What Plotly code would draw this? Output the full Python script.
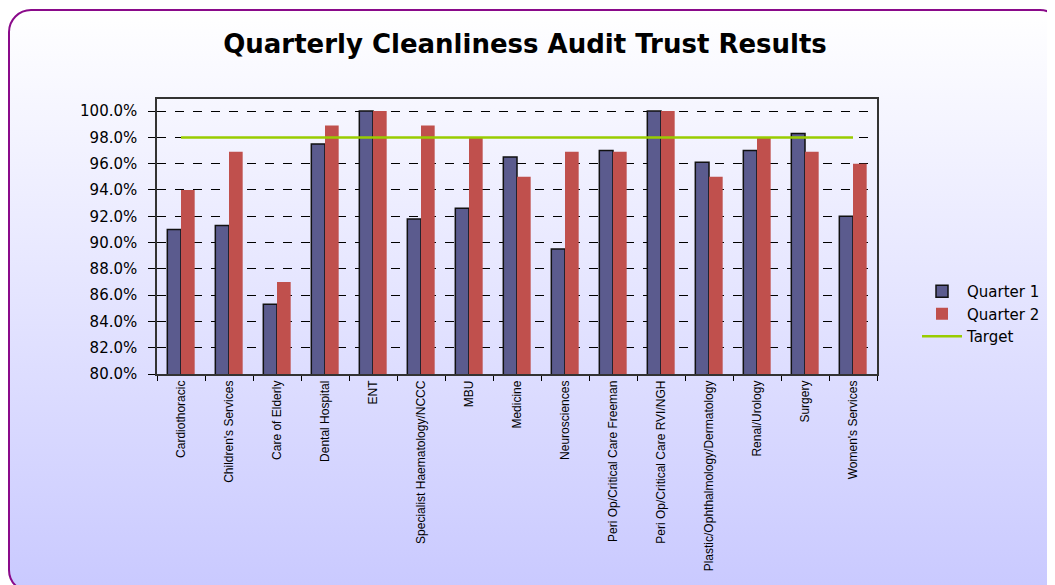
import base64
import plotly.graph_objects as go

categories = [
    "Cardiothoracic", "Children's Services", "Care of Elderly", "Dental Hospital",
    "ENT", "Specialist Haematology/NCCC", "MBU", "Medicine", "Neurosciences",
    "Peri Op/Critical Care Freeman", "Peri Op/Critical Care RVI/NGH",
    "Plastic/Ophthalmology/Dermatology", "Renal/Urology", "Surgery", "Women's Services",
]
quarter1 = [91.0, 91.3, 85.3, 97.5, 100.0, 91.8, 92.6, 96.5, 89.5, 97.0, 100.0, 96.1, 97.0, 98.3, 92.0]
quarter2 = [94.0, 96.9, 87.0, 98.9, 100.0, 98.9, 98.0, 95.0, 96.9, 96.9, 100.0, 95.0, 98.0, 96.9, 96.0]
target_value = 98.0
target = [target_value for _ in categories]
y_ticks = [80, 82, 84, 86, 88, 90, 92, 94, 96, 98, 100]

W, H = 1055, 585
L, R, T, B = 149, 186, 91, 219
pw, ph = W - L - R, H - T - B

svg = f'''<svg xmlns="http://www.w3.org/2000/svg" width="{W}" height="{H}" viewBox="0 0 {W} {H}" preserveAspectRatio="none">
<defs><linearGradient id="g" x1="0" y1="0" x2="0" y2="1">
<stop offset="0" stop-color="#ffffff"/><stop offset="1" stop-color="#c9c9ff"/></linearGradient></defs>
<rect x="0" y="0" width="{W}" height="{H}" fill="#ffffff"/>
<rect x="1" y="2" width="{W - 2}" height="{H - 3}" rx="22" ry="22" fill="url(#g)" stroke="#8a0a8a" stroke-width="2"/>
</svg>'''
src = "data:image/svg+xml;base64," + base64.b64encode(svg.encode()).decode()

font = "Liberation Sans, Arial, sans-serif"
wide = "DejaVu Sans, Liberation Sans, sans-serif"

fig = go.Figure()
fig.add_trace(go.Bar(
    name="Quarter 1", x=categories, y=quarter1,
    marker=dict(color="#5b5b8e", line=dict(color="#111111", width=1.5)),
))
fig.add_trace(go.Bar(
    name="Quarter 2", x=categories, y=quarter2,
    marker=dict(color="#c0504d", line=dict(width=0)),
))
fig.add_trace(go.Scatter(
    name="Target", x=categories, y=target, mode="lines",
    line=dict(color="#99cc00", width=2.5),
))

fig.update_layout(
    width=W, height=H,
    margin=dict(l=L, r=R, t=T, b=B, autoexpand=False),
    paper_bgcolor="rgba(0,0,0,0)",
    plot_bgcolor="#ffffff",
    font=dict(family=font, color="#000000"),
    barmode="group", bargap=0.43, bargroupgap=0,
    title=dict(
        text="<b>Quarterly Cleanliness Audit Trust Results</b>",
        x=517 / W, xanchor="center", xref="container",
        y=1 - 36 / H, yanchor="middle", yref="container",
        font=dict(size=26, family=wide, color="#000000"),
    ),
    legend=dict(
        x=(909 - L) / pw, xanchor="left",
        y=(T + ph - 306) / ph, yanchor="middle",
        bgcolor="rgba(0,0,0,0)", font=dict(size=15, family=wide),
        tracegroupgap=0, itemwidth=40,
    ),
    images=[dict(
        source=src, xref="paper", yref="paper",
        x=-L / pw, y=(ph + T) / ph, sizex=W / pw, sizey=H / ph,
        xanchor="left", yanchor="top", sizing="stretch", layer="below",
    )],
)

fig.update_xaxes(
    type="category", tickangle=-90, tickfont=dict(size=12, family=font),
    ticks="outside", tickson="boundaries", ticklen=5, tickcolor="#000000",
    showline=True, linecolor="#333333", linewidth=1.5, mirror=True,
    showgrid=False,
)
fig.update_yaxes(
    range=[80, 100.92], tickvals=y_ticks,
    ticktext=[f"{v:.1f}%" for v in y_ticks],
    tickfont=dict(size=15, family=wide),
    ticks="outside", ticklen=7, tickcolor="#000000", ticklabelstandoff=8,
    showline=True, linecolor="#333333", linewidth=1.5, mirror=True,
    showgrid=True, gridcolor="#000000", gridwidth=1, griddash="dash",
    zeroline=False,
)

fig.write_html("out.html")
